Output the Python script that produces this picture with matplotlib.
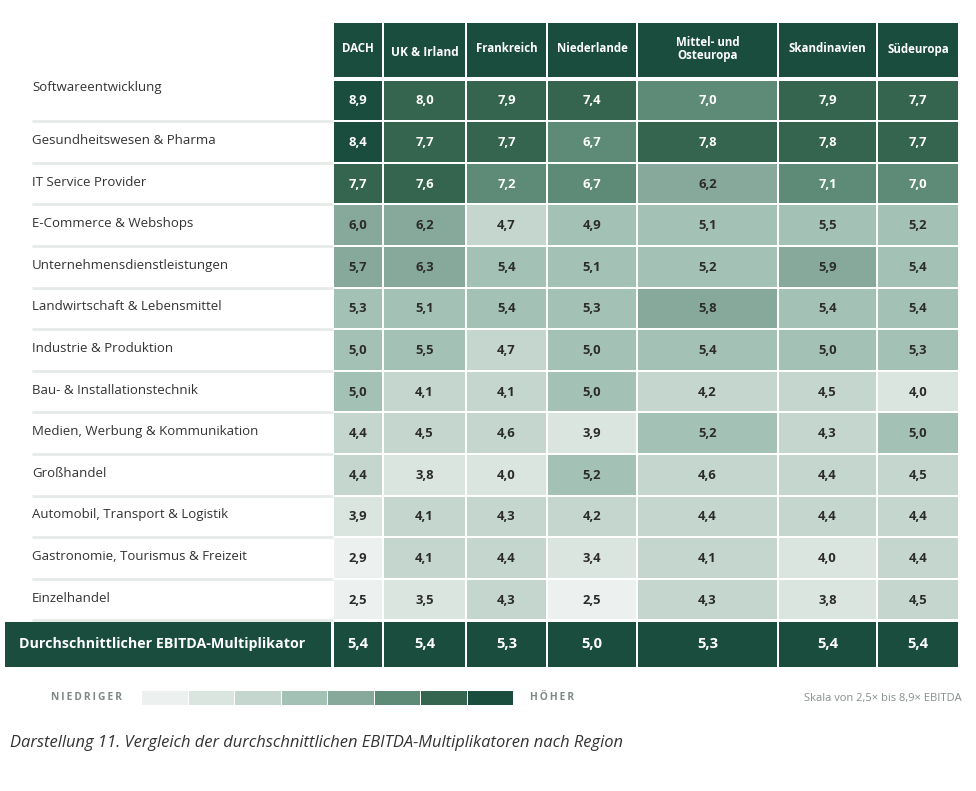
import numpy as np
import matplotlib
matplotlib.use("Agg")
import matplotlib.pyplot as plt
from matplotlib.patches import Rectangle

plt.rcParams['font.family'] = ['Open Sans', 'DejaVu Sans']

# data
regions = ['DACH', 'UK & Irland', 'Frankreich', 'Niederlande',
           'Mittel- und\nOsteuropa', 'Skandinavien', 'Südeuropa']
branchen = ['Softwareentwicklung', 'Gesundheitswesen & Pharma', 'IT Service Provider',
            'E-Commerce & Webshops', 'Unternehmensdienstleistungen',
            'Landwirtschaft & Lebensmittel', 'Industrie & Produktion',
            'Bau- & Installationstechnik', 'Medien, Werbung & Kommunikation',
            'Großhandel', 'Automobil, Transport & Logistik',
            'Gastronomie, Tourismus & Freizeit', 'Einzelhandel']
dach = [8.9, 8.4, 7.7, 6.0, 5.7, 5.3, 5.0, 5.0, 4.4, 4.4, 3.9, 2.9, 2.5]
uk   = [8.0, 7.7, 7.6, 6.2, 6.3, 5.1, 5.5, 4.1, 4.5, 3.8, 4.1, 4.1, 3.5]
fr   = [7.9, 7.7, 7.2, 4.7, 5.4, 5.4, 4.7, 4.1, 4.6, 4.0, 4.3, 4.4, 4.3]
nl   = [7.4, 6.7, 6.7, 4.9, 5.1, 5.3, 5.0, 5.0, 3.9, 5.2, 4.2, 3.4, 2.5]
moe  = [7.0, 7.8, 6.2, 5.1, 5.2, 5.8, 5.4, 4.2, 5.2, 4.6, 4.4, 4.1, 4.3]
skan = [7.9, 7.8, 7.1, 5.5, 5.9, 5.4, 5.0, 4.5, 4.3, 4.4, 4.4, 4.0, 3.8]
sued = [7.7, 7.7, 7.0, 5.2, 5.4, 5.4, 5.3, 4.0, 5.0, 4.5, 4.4, 4.4, 4.5]
durchschnitt = [5.4, 5.4, 5.3, 5.0, 5.3, 5.4, 5.4]
skala_min, skala_max = 2.5, 8.9

palette = ['#ecf0ee', '#dbe5e0', '#c4d6cd', '#a4c1b5',
           '#86a99b', '#5d8b78', '#36654f', '#1a4d3e']
dark = '#1a4d3e'

werte = np.array([dach, uk, fr, nl, moe, skan, sued]).T

# layout in pixels
col_edges = [333, 383, 466, 547, 637, 778, 877, 959]
head_top, head_bot = 23, 78
row_top = 79.5
row_h = 41.6
gap = 2

fig = plt.figure(figsize=(9.76, 7.91), dpi=100)
ax = fig.add_axes([0, 0, 1, 1])
ax.set_xlim(0, 976)
ax.set_ylim(791, 0)
ax.axis('off')

def fmt(v):
    return f"{v:.1f}".replace('.', ',')

def bin_of(v):
    step = (skala_max - skala_min) / len(palette)
    i = int(np.floor((v - skala_min) / step + 1e-6))
    return min(max(i, 0), len(palette) - 1)

def spaced(s):
    return '\u2009'.join(s)

# header
for j, name in enumerate(regions):
    x0, x1 = col_edges[j], col_edges[j + 1]
    ax.add_patch(Rectangle((x0 + 1, head_top), x1 - x0 - gap, head_bot - head_top - 1,
                           color=dark, lw=0))
    yt = 52 if name == 'UK & Irland' else 49
    fs = 8.6 if name == 'UK & Irland' else 8.3
    ax.text((x0 + x1) / 2, yt, name, ha='center', va='center', color='white',
            fontsize=fs, fontweight='bold', linespacing=1.05)

# body
for i, label in enumerate(branchen):
    y0 = row_top + i * row_h
    ly = 87 if i == 0 else y0 + row_h / 2 - 1.5
    ax.text(32, ly, label, ha='left', va='center', fontsize=9.5, color='#333333')
    ax.plot([32, 333], [y0 + row_h, y0 + row_h], color='#e6ebe8', lw=2, solid_capstyle='butt')
    for j in range(len(regions)):
        v = werte[i, j]
        b = bin_of(v)
        x0, x1 = col_edges[j], col_edges[j + 1]
        ax.add_patch(Rectangle((x0 + 1, y0 + 1), x1 - x0 - gap, row_h - gap,
                               color=palette[b], lw=0))
        ax.text((x0 + x1) / 2, y0 + row_h / 2 + 0.5, fmt(v), ha='center', va='center',
                fontsize=9.4, fontweight='bold',
                color='white' if b >= 5 else '#2b2b2b')

# summary row
sy0 = row_top + len(branchen) * row_h + 1.5
sh = 45
ax.add_patch(Rectangle((5, sy0), 326, sh, color=dark, lw=0))
ax.text(19, sy0 + sh / 2, 'Durchschnittlicher EBITDA-Multiplikator', ha='left', va='center',
        fontsize=10.3, fontweight='bold', color='white')
for j, v in enumerate(durchschnitt):
    x0, x1 = col_edges[j], col_edges[j + 1]
    ax.add_patch(Rectangle((x0 + 1, sy0), x1 - x0 - gap, sh, color=dark, lw=0))
    ax.text((x0 + x1) / 2, sy0 + sh / 2, fmt(v), ha='center', va='center',
            fontsize=10.6, fontweight='bold', color='white')

# legend
ly = 698
ax.text(122, ly, spaced('NIEDRIGER'), ha='right', va='center', fontsize=7.4,
        fontweight='bold', color='#7d8a85')
seg_w = (514 - 142) / len(palette)
for k, c in enumerate(palette):
    ax.add_patch(Rectangle((142 + k * seg_w, 691), seg_w - 0.7, 14, color=c, lw=0))
ax.text(530, ly, spaced('HÖHER'), ha='left', va='center', fontsize=7.4,
        fontweight='bold', color='#7d8a85')
ax.text(962, ly, 'Skala von 2,5× bis 8,9× EBITDA', ha='right', va='center',
        fontsize=8.0, color='#858f8b')

# caption
ax.text(10, 743, 'Darstellung 11. Vergleich der durchschnittlichen EBITDA-Multiplikatoren nach Region',
        ha='left', va='center', fontsize=11.9, style='italic', color='#333333')

fig.savefig('out.png', dpi=100, facecolor='white')
